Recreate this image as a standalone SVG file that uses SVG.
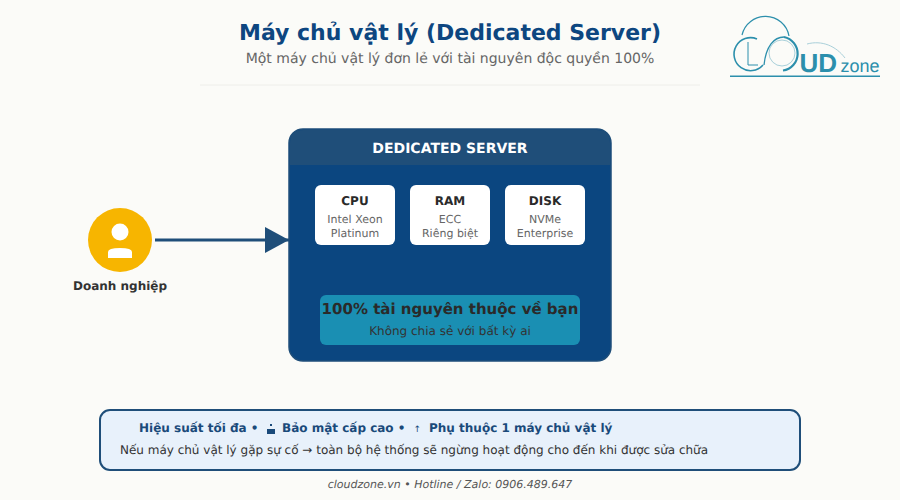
<svg xmlns="http://www.w3.org/2000/svg" width="900" height="500" viewBox="0 0 900 500">
<style>
text{font-family:"DejaVu Sans",sans-serif;text-anchor:middle;text-rendering:geometricPrecision}
.card{fill:#fff}
.ct{font-size:12px;font-weight:700;fill:#2a2a2a}
.cs{font-size:11px;fill:#666}
.logo{fill:none;stroke:#2c8fac}
.logol{fill:none;stroke:#a9d0da}
.nt{font-size:12px;font-weight:700;fill:#1a4a7a;text-anchor:start}
text.lg{font-family:"Liberation Sans",sans-serif;text-anchor:start;fill:#2c8fac}
</style>
<defs><marker id="arrow" markerUnits="userSpaceOnUse" markerWidth="24" markerHeight="26" refX="24" refY="13" orient="auto"><path d="M0 0L24 13L0 26Z" fill="#1f4e79"/></marker></defs>
<rect width="900" height="500" fill="#fbfbf8"/>
<g id="header">
<text x="450" y="40" font-size="22" font-weight="700" fill="#0d4680">Máy chủ vật lý (Dedicated Server)</text>
<text x="450" y="63" font-size="14" fill="#666">Một máy chủ vật lý đơn lẻ với tài nguyên độc quyền 100%</text>
<line x1="200" y1="85" x2="700" y2="85" stroke="#eeeeea"/>
</g>
<g id="logo">
<path class="logo" stroke-width="1.2" d="M742 35A24 24 0 0 1 789 36"/>
<path class="logo" stroke-width="1.6" d="M757 39A16.500 16.500 0 1 0 763 65"/>
<path class="logo" stroke-width="1" d="M748 42V65H758"/>
<circle class="logol" stroke-width="1" cx="782" cy="53" r="13"/>
<path class="logo" stroke-width="1.300" d="M764 65C766 46 774 37 784 37"/>
<path class="logo" stroke-width="2.200" d="M784 37A17 17 0 0 1 783 70.500"/>
<path class="logol" stroke-width="1" d="M807 44C822 40 836 46 845 58"/>
<text class="lg" x="799.500" y="72" font-size="26" font-weight="700">UD</text>
<text class="lg" x="840.500" y="72" font-size="18">zone</text>
<rect x="730" y="75.500" width="150" height="1.500" fill="#2c8fac"/>
</g>
<g id="client">
<circle cx="120" cy="240" r="32" fill="#f7b500"/>
<circle cx="120" cy="232" r="8.500" fill="#fff"/>
<path d="M108 258V252Q108 248 120 248Q132 248 132 252V258Z" fill="#fff"/>
<text x="120" y="290" font-size="12" font-weight="700" fill="#333">Doanh nghiệp</text>
</g>
<g id="connectors"><line x1="155" y1="240" x2="289" y2="240" stroke="#1f4e79" stroke-width="3" marker-end="url(#arrow)"/></g>
<g id="server">
<rect x="289" y="129" width="322" height="232" rx="14" fill="#0b4680" stroke="#1f4e79" stroke-width="1.500"/>
<path d="M290 165V143Q290 130 303 130H597Q610 130 610 143V165Z" fill="#1f4e79"/>
<text x="450" y="153" font-size="14" font-weight="700" fill="#fff">DEDICATED SERVER</text>
</g>
<g id="cpu"><rect class="card" x="315" y="185" width="80" height="60" rx="6"/><text class="ct" x="355" y="205">CPU</text><text class="cs" x="355" y="223">Intel Xeon</text><text class="cs" x="355" y="237">Platinum</text></g>
<g id="ram"><rect class="card" x="410" y="185" width="80" height="60" rx="6"/><text class="ct" x="450" y="205">RAM</text><text class="cs" x="450" y="223">ECC</text><text class="cs" x="450" y="237">Riêng biệt</text></g>
<g id="disk"><rect class="card" x="505" y="185" width="80" height="60" rx="6"/><text class="ct" x="545" y="205">DISK</text><text class="cs" x="545" y="223">NVMe</text><text class="cs" x="545" y="237">Enterprise</text></g>
<g id="resource"><rect x="320" y="295" width="260" height="50" rx="6" fill="#1a8fb3"/>
<text x="450" y="314" font-size="15" font-weight="700" fill="#2a2a2a">100% tài nguyên thuộc về bạn</text>
<text x="450" y="335" font-size="12" fill="#333">Không chia sẻ với bất kỳ ai</text></g>
<g id="note"><rect x="100" y="410" width="700" height="60" rx="10" fill="#e8f1fb" stroke="#1f4e79" stroke-width="2"/>
<text class="nt" x="139" y="432">Hiệu suất tối đa •</text>
<rect x="267" y="429" width="8" height="5" fill="#1a4a7a"/><rect x="270" y="424" width="2" height="2" fill="#1a4a7a"/>
<text class="nt" x="282" y="432">Bảo mật cấp cao •</text>
<text class="nt" x="413.500" y="432" style="font-size:9px;font-weight:400">↑</text>
<text class="nt" x="429" y="432">Phụ thuộc 1 máy chủ vật lý</text>
<text x="414" y="454" font-size="12" fill="#333">Nếu máy chủ vật lý gặp sự cố → toàn bộ hệ thống sẽ ngừng hoạt động cho đến khi được sửa chữa</text></g>
<text id="footer" x="450" y="488" font-size="11" font-style="italic" fill="#555">cloudzone.vn • Hotline / Zalo: 0906.489.647</text>
</svg>
